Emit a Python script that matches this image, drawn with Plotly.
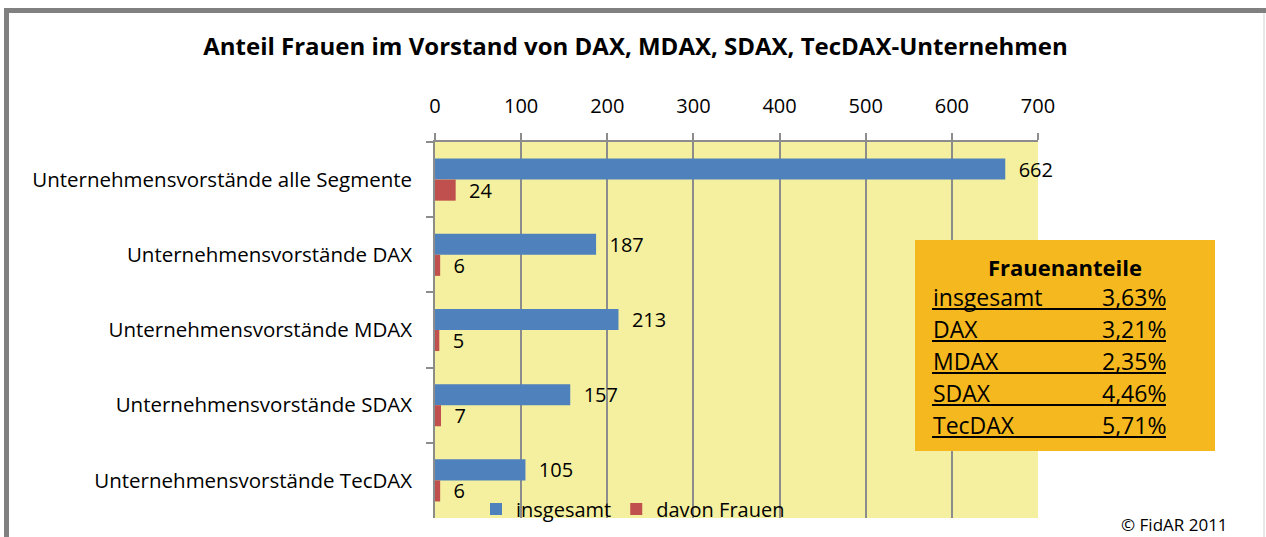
import plotly.graph_objects as go

categories = [
    "Unternehmensvorstände alle Segmente",
    "Unternehmensvorstände DAX",
    "Unternehmensvorstände MDAX",
    "Unternehmensvorstände SDAX",
    "Unternehmensvorstände TecDAX",
]
insgesamt = [662, 187, 213, 157, 105]
davon_frauen = [24, 6, 5, 7, 6]
x_ticks = [0, 100, 200, 300, 400, 500, 600, 700]

table_title = "Frauenanteile"
table_labels = ["insgesamt", "DAX", "MDAX", "SDAX", "TecDAX"]
table_values = ["3,63%", "3,21%", "2,35%", "4,46%", "5,71%"]

FONT = "Open Sans"
W, H = 1266, 537
L, R, T, B = 435, 1038, 142, 518


def px(x):
    return (x - L) / (R - L)


def py(y):
    return (B - y) / (B - T)


fig = go.Figure()
fig.add_trace(go.Bar(
    y=categories, x=insgesamt, name="insgesamt", orientation="h",
    marker=dict(color="#4F81BD", line=dict(width=0)),
    text=insgesamt, texttemplate="  %{x}", textposition="outside", constraintext="none",
    textfont=dict(family=FONT, size=20, color="black"), cliponaxis=False,
))
fig.add_trace(go.Bar(
    y=categories, x=davon_frauen, name="davon Frauen", orientation="h",
    marker=dict(color="#C0504D", line=dict(width=0)),
    text=davon_frauen, texttemplate="  %{x}", textposition="outside", constraintext="none",
    textfont=dict(family=FONT, size=20, color="black"), cliponaxis=False,
))

shapes = [
    dict(type="rect", xref="paper", yref="paper", x0=px(4), x1=px(1266), y0=py(8), y1=py(13),
         fillcolor="#808080", line=dict(width=0), layer="above"),
    dict(type="rect", xref="paper", yref="paper", x0=px(4), x1=px(9), y0=py(8), y1=py(537),
         fillcolor="#808080", line=dict(width=0), layer="above"),
    dict(type="line", xref="paper", yref="paper", x0=px(1264), x1=px(1264), y0=py(13), y1=py(537),
         line=dict(color="#D0D0D0", width=1), layer="above"),
    dict(type="rect", xref="paper", yref="paper", x0=px(915), x1=px(1215), y0=py(240), y1=py(451),
         fillcolor="#F5B91F", line=dict(width=0), layer="above"),
]
annotations = [
    dict(text="<b>" + table_title + "</b>", xref="paper", yref="paper", x=px(1065), y=py(267),
         xanchor="center", yanchor="middle", showarrow=False, font=dict(family=FONT, size=22, color="black")),
]
for i, (lab, val) in enumerate(zip(table_labels, table_values)):
    yc = 297 + 32 * i
    annotations.append(dict(text=lab, xref="paper", yref="paper", x=px(931), y=py(yc), xanchor="left",
                            yanchor="middle", showarrow=False, font=dict(family=FONT, size=23, color="black")))
    annotations.append(dict(text=val, xref="paper", yref="paper", x=px(1168), y=py(yc), xanchor="right",
                            yanchor="middle", showarrow=False, font=dict(family=FONT, size=23, color="black")))
    shapes.append(dict(type="line", xref="paper", yref="paper", x0=px(932), x1=px(1166),
                       y0=py(yc + 12), y1=py(yc + 12), line=dict(color="black", width=2), layer="above"))

annotations.append(dict(text="© FidAR 2011", xref="paper", yref="paper", x=px(1230), y=py(524),
                        xanchor="right", yanchor="middle", showarrow=False,
                        font=dict(family=FONT, size=17, color="black")))

fig.update_layout(
    width=W, height=H,
    margin=dict(l=L, r=W - R, t=T, b=H - B, autoexpand=False),
    paper_bgcolor="white", plot_bgcolor="#F4F09F",
    font=dict(family=FONT, size=18, color="black"),
    title=dict(text="<b>Anteil Frauen im Vorstand von DAX, MDAX, SDAX, TecDAX-Unternehmen</b>",
               xref="container", yref="container", x=635.5 / W, y=1 - 47 / H,
               xanchor="center", yanchor="middle", font=dict(family=FONT, size=24, color="black")),
    barmode="group", bargap=0.44, bargroupgap=0,
    showlegend=True,
    legend=dict(orientation="h", x=px(476), y=py(509), xanchor="left", yanchor="middle",
                bgcolor="rgba(0,0,0,0)", font=dict(family=FONT, size=20), itemwidth=30,
                traceorder="normal"),
    shapes=shapes, annotations=annotations,
)
fig.update_xaxes(
    side="top", range=[0, 700], tickvals=x_ticks, ticktext=[str(v) for v in x_ticks],
    showgrid=True, gridcolor="#8C8C8C", gridwidth=1.5, zeroline=False,
    showline=True, linecolor="#8C8C8C", linewidth=1.5,
    ticks="outside", ticklen=7, tickcolor="#8C8C8C", tickwidth=1.5,
    tickfont=dict(family=FONT, size=20), ticklabelstandoff=12,
)
fig.update_yaxes(
    type="category", categoryorder="array", categoryarray=categories, autorange="reversed",
    showgrid=False, showline=True, linecolor="#8C8C8C", linewidth=1.5,
    ticks="outside", ticklen=7, tickcolor="#8C8C8C", tickwidth=1.5, tickson="boundaries",
    tickfont=dict(family=FONT, size=20.5), ticklabelstandoff=17,
)

fig.write_html("out.html")
